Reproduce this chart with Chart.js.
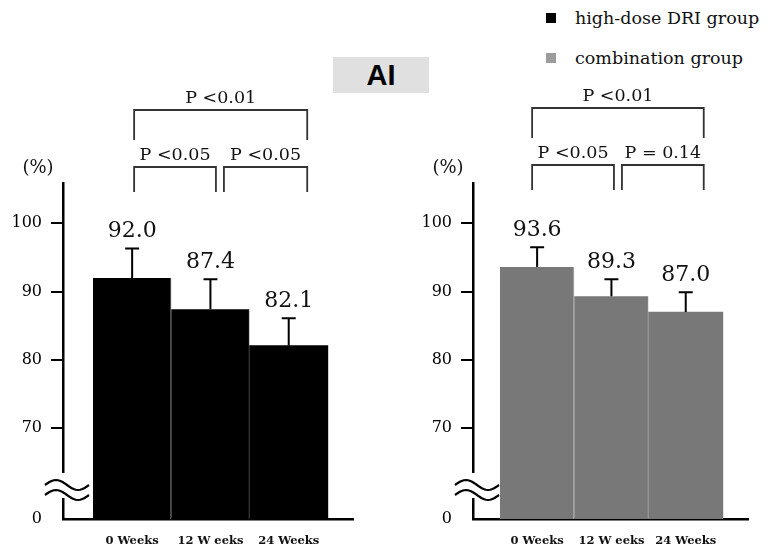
<!DOCTYPE html>
<html>
<head>
<meta charset="utf-8">
<script src="https://cdn.jsdelivr.net/npm/chart.js@4.4.0/dist/chart.umd.min.js"></script>
<style>
  body { margin: 0; width: 771px; height: 548px; position: relative; overflow: hidden; background: #fff; font-family: "DejaVu Serif", serif; }
  .panel { position: absolute; top: 0; }
  #titulo { position: absolute; left: 333px; top: 57px; width: 96px; height: 36px; background: #e0e0e0;
            font: bold 29px "Liberation Sans", Arial, sans-serif; line-height: 37px; text-align: center; color: #000; }
  .leyenda { position: absolute; left: 546px; font-size: 17.5px; color: #111; white-space: nowrap; }
  .leyenda span { display: inline-block; width: 10px; height: 10px; margin-right: 19px; vertical-align: 1px; }
</style>
</head>
<body>
<div id="titulo">AI</div>
<div class="leyenda" style="top:8px"><span style="background:#000"></span>high-dose DRI group</div>
<div class="leyenda" style="top:48px"><span style="background:#9c9c9c"></span>combination group</div>
<div class="panel" style="left:0"><canvas id="izq" width="385" height="548"></canvas></div>
<div class="panel" style="left:385px"><canvas id="der" width="386" height="548"></canvas></div>
<script>
// Datos
const semanas = ["0 Weeks", "12 W eeks", "24 Weeks"];
const dosisAlta = [92.0, 87.4, 82.1];
const dosisAltaDE = [4.3, 4.4, 4.0];
const combinacion = [93.6, 89.3, 87.0];
const combinacionDE = [2.9, 2.5, 2.9];
const ticksY = [70, 80, 90, 100];
const pDosisAlta = ["P <0.01", "P <0.05", "P <0.05"];
const pCombinacion = ["P <0.01", "P <0.05", "P = 0.14"];

const yMin = 56.7;
const yMax = 105.9;

// Dibuja un corchete con su texto encima
function corchete(ctx, xa, xb, yl, patas, texto) {
  ctx.beginPath();
  ctx.moveTo(xa, yl + patas);
  ctx.lineTo(xa, yl);
  ctx.lineTo(xb, yl);
  ctx.lineTo(xb, yl + patas);
  ctx.stroke();
  ctx.fillText(texto, (xa + xb) / 2, yl - 12);
}

// Barras de error, valores, corchetes y corte del eje
const anotaciones = {
  id: "anotaciones",
  afterDatasetsDraw(chart, args, opts) {
    const ctx = chart.ctx;
    const y = chart.scales.y;
    const area = chart.chartArea;
    const barras = chart.getDatasetMeta(0).data;
    const centros = barras.map(b => b.x);

    ctx.save();
    ctx.strokeStyle = "#000";
    ctx.fillStyle = "#111";
    ctx.lineWidth = 2;
    ctx.textAlign = "center";
    ctx.textBaseline = "middle";
    ctx.font = '22px "DejaVu Serif"';
    barras.forEach((b, i) => {
      const tope = y.getPixelForValue(opts.valores[i] + opts.de[i]);
      ctx.beginPath();
      ctx.moveTo(b.x, b.y);
      ctx.lineTo(b.x, tope);
      ctx.moveTo(b.x - 7, tope);
      ctx.lineTo(b.x + 7, tope);
      ctx.stroke();
      ctx.fillText(opts.valores[i].toFixed(1), b.x, tope - 17);
    });

    // corchetes de significación
    ctx.font = '17.5px "DejaVu Serif"';
    ctx.strokeStyle = "#333";
    ctx.lineWidth = 1.8;
    const d = opts.desfase;
    const x0 = centros[0] + d.inicio;
    const xm = centros[1] + d.medio;
    const x2 = centros[2] + d.fin;
    corchete(ctx, x0, x2, opts.niveles[0], 30, opts.p[0]);
    corchete(ctx, x0, xm - 4, opts.niveles[1], 25, opts.p[1]);
    corchete(ctx, xm + 4, x2, opts.niveles[1], 25, opts.p[2]);

    ctx.font = '18px "DejaVu Serif"';
    ctx.fillText("(%)", area.left - 25, 168);

    // corte del eje
    const xe = area.left;
    ctx.fillStyle = "#fff";
    ctx.fillRect(xe - 6, area.bottom - 46, 12, 25);
    ctx.strokeStyle = "#000";
    ctx.lineWidth = 2.2;
    [0, 10].forEach(off => {
      ctx.beginPath();
      for (let t = 0; t <= 1.0001; t += 0.05) {
        const px = xe - 18 + t * 44;
        const py = area.bottom - 34 + off - 5 * Math.sin(2 * Math.PI * t);
        if (t === 0) ctx.moveTo(px, py); else ctx.lineTo(px, py);
      }
      ctx.stroke();
    });
    ctx.restore();
  }
};

function crearGrafico(id, valores, de, p, color, separador, ancho, xMin, xMax, padDer, desfase, niveles) {
  const ctx = document.getElementById(id).getContext("2d");
  return new Chart(ctx, {
    type: "bar",
    data: {
      datasets: [{
        data: valores.map((v, i) => ({ x: i, y: v })),
        backgroundColor: color,
        borderColor: separador,
        borderWidth: c => (c.dataIndex < valores.length - 1 ? { right: 1 } : 0),
        borderSkipped: false,
        categoryPercentage: 1,
        barPercentage: 1
      }]
    },
    options: {
      responsive: false,
      animation: false,
      devicePixelRatio: 1,
      layout: { padding: { left: 0, right: padDer, top: 183, bottom: 0 } },
      plugins: {
        legend: { display: false },
        tooltip: { enabled: false },
        anotaciones: { valores: valores, de: de, p: p, desfase: desfase, niveles: niveles }
      },
      scales: {
        x: {
          type: "linear",
          offset: false,
          min: xMin,
          max: xMax,
          afterBuildTicks: s => { s.ticks = semanas.map((_, i) => ({ value: i })); },
          afterFit: s => { s.height = 29; },
          grid: { display: false, drawTicks: false },
          border: { display: true, color: "#000", width: 2.5 },
          ticks: {
            autoSkip: false, maxRotation: 0, padding: 15, color: "#111",
            font: { family: "DejaVu Serif", size: 11.5, weight: "bold" },
            callback: v => semanas[v]
          }
        },
        y: {
          min: yMin,
          max: yMax,
          afterBuildTicks: s => { s.ticks = [yMin].concat(ticksY).map(v => ({ value: v })); },
          afterFit: s => { s.width = ancho; },
          grid: {
            drawOnChartArea: false, drawTicks: true, tickLength: 12, lineWidth: 2,
            color: c => (c.tick && c.tick.value === yMin ? "rgba(0,0,0,0)" : "#000")
          },
          border: { display: true, color: "#000", width: 2.5 },
          ticks: {
            padding: 9, color: "#000",
            font: { family: "DejaVu Serif", size: 16 },
            callback: v => (v === yMin ? "0" : v)
          }
        }
      }
    },
    plugins: [anotaciones]
  });
}

crearGrafico("izq", dosisAlta, dosisAltaDE, pDosisAlta, "#000", "#bbb", 63, -0.883, 2.821, 32,
  { inicio: 2, medio: 9.5, fin: 18.5 }, [110, 167]);
crearGrafico("der", combinacion, combinacionDE, pCombinacion, "#787878", "#ddd", 88, -0.863, 2.838, 23,
  { inicio: -5, medio: 6.5, fin: 18 }, [108, 165]);
</script>
</body>
</html>
